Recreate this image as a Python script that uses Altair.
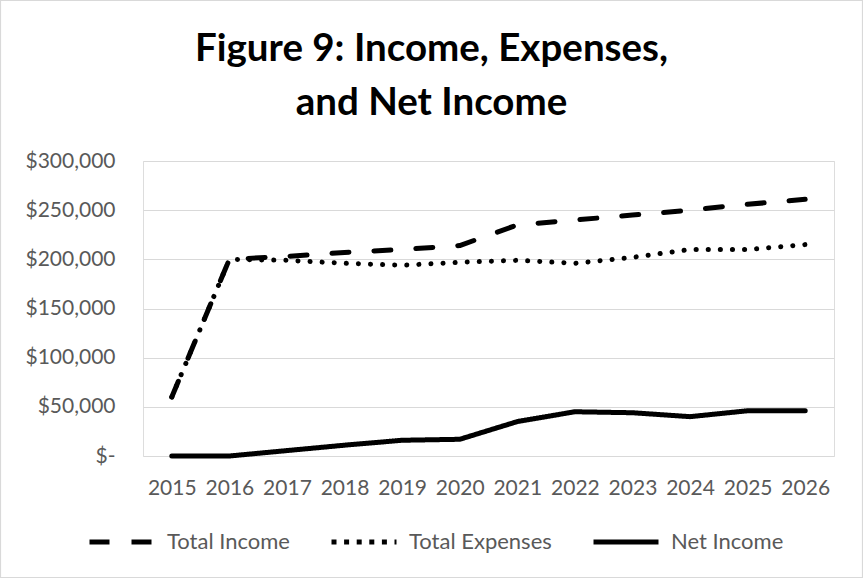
import altair as alt
import pandas as pd

years = [str(y) for y in range(2015, 2027)]
total_income = [60000, 200000, 203000, 207000, 210000, 214000, 235000, 240000, 245000, 250000, 256000, 261000]
total_expenses = [60000, 200000, 199000, 196000, 194000, 197000, 199000, 196000, 202000, 210000, 210000, 215000]
net_income = [0, 0, 5500, 11000, 16000, 17000, 35000, 45000, 44000, 40000, 46000, 46000]
series_names = ["Total Income", "Total Expenses", "Net Income"]
y_ticks = [0, 50000, 100000, 150000, 200000, 250000, 300000]

rows = []
for name, vals in zip(series_names, [total_income, total_expenses, net_income]):
    for yr, v in zip(years, vals):
        rows.append({"Year": yr, "Value": v, "Series": name})
df = pd.DataFrame(rows)

W, H = 691, 295
FONT = "Lato"
GREY = "#595959"

x_enc = alt.X("Year:O", scale=alt.Scale(type="point", padding=0.5),
              axis=alt.Axis(title=None, labelAngle=0, ticks=False, domain=False, labelPadding=21,
                            labelFontSize=21, labelColor=GREY, labelFont=FONT))
y_enc = alt.Y("Value:Q", scale=alt.Scale(domain=[0, 300000], nice=False),
              axis=alt.Axis(title=None, values=y_ticks, ticks=False, domain=False, labelPadding=28,
                            labelFontSize=21, labelColor=GREY, labelFont=FONT,
                            gridColor="#d9d9d9", gridWidth=1.2,
                            labelExpr="datum.value == 0 ? '$-\u00a0\u00a0\u00a0' : '$' + format(datum.value, ',')"))

# plotted lines (round caps, legend hidden)
lines = alt.Chart(df).mark_line(strokeWidth=5, strokeCap="round", strokeJoin="round", color="black").encode(
    x=x_enc,
    y=y_enc,
    strokeDash=alt.StrokeDash("Series:N",
                              scale=alt.Scale(domain=series_names, range=[[17, 25], [0.1, 12], [1, 0]]),
                              legend=None),
    order=alt.Order("Year:O"),
    detail="Series:N",
)

# legend carrier (draws nothing, provides legend with butt-cap friendly dashes)
legend_layer = alt.Chart(df).transform_filter("false").mark_line(strokeWidth=5, color="black").encode(
    x=alt.X("Year:O"),
    y=alt.Y("Value:Q"),
    strokeDash=alt.StrokeDash("Series:N",
                              scale=alt.Scale(domain=series_names, range=[[20, 22], [5, 7.6], [1, 0]]),
                              sort=series_names,
                              legend=alt.Legend(title=None, orient="none", direction="horizontal",
                                                legendX=-56, legendY=346,
                                                symbolType="stroke", symbolSize=4225,
                                                symbolStrokeWidth=5, symbolStrokeColor="black",
                                                labelFontSize=22, labelColor=GREY, labelFont=FONT,
                                                labelOffset=10, columnPadding=31)),
)

border = alt.Chart(alt.Data(values=[{"b": 1}])).mark_rect(fill=None, stroke="#d9d9d9", strokeWidth=1.2).encode(
    x=alt.value(-142.5), x2=alt.value(W + 28.5), y=alt.value(-160.5), y2=alt.value(H + 121.5)
)

chart = alt.layer(border, lines, legend_layer).resolve_scale(strokeDash="independent").properties(
    width=W, height=H,
    autosize=alt.AutoSizeParams(type="none"),
    padding={"left": 143, "top": 161, "right": 29, "bottom": 122},
    title=alt.Title(["Figure 9: Income, Expenses,", "and Net Income"], fontSize=38.5, fontWeight="bold",
                    font=FONT, color="black", anchor="middle", frame="bounds", lineHeight=54,
                    offset=0, dy=124),
).configure_view(stroke=None).configure(background="white")

chart.save("out.html", embed_options={"renderer": "svg", "actions": False})
